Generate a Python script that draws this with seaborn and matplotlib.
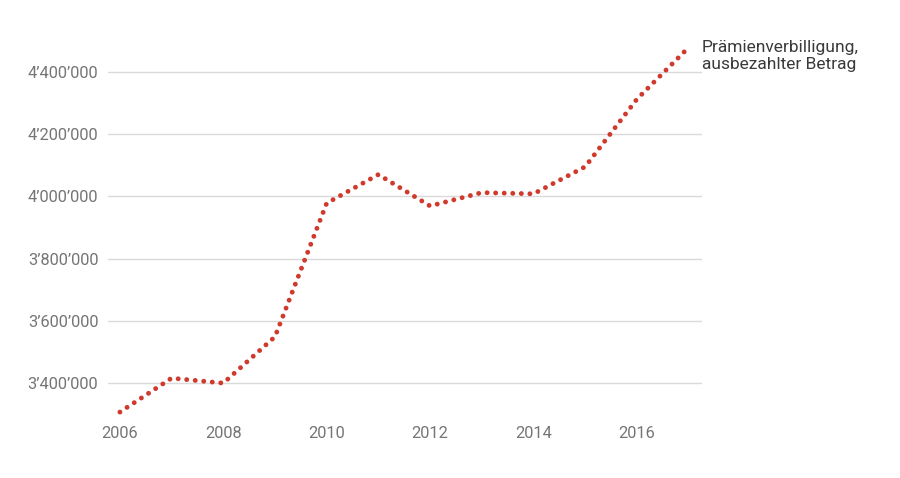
import matplotlib
matplotlib.use("Agg")
import matplotlib.pyplot as plt
import matplotlib.ticker as mticker
import seaborn as sns
import pandas as pd

years = [2006, 2007, 2008, 2009, 2010, 2011, 2012, 2013, 2014, 2015, 2016, 2017]
betrag = [3307000, 3416000, 3400000, 3549000, 3978000, 4070000, 3969000,
          4012000, 4008000, 4095000, 4312000, 4478000]
series_label = "Prämienverbilligung,\nausbezahlter Betrag"
y_ticks = [3400000, 3600000, 3800000, 4000000, 4200000, 4400000]
x_ticks = [2006, 2008, 2010, 2012, 2014, 2016]

df = pd.DataFrame({"Jahr": years, "Betrag": betrag})

sns.set_theme(style="white")
plt.rcParams["font.family"] = ["Roboto", "DejaVu Sans"]

fig = plt.figure(figsize=(9, 4.78), dpi=100)
ax = fig.add_axes([108 / 900, 1 - 418 / 478, (702 - 108) / 900, (418 - 36) / 478])

line_color = "#d03a2c"
sns.lineplot(data=df, x="Jahr", y="Betrag", ax=ax, color=line_color,
             linewidth=3.5, linestyle=(0, (0.01, 1.75)),
             dash_capstyle="round", solid_capstyle="round", zorder=3)

ax.set_xlim(2005.77, 2017.26)
ax.set_ylim(3288000, 4515000)
ax.set_yticks(y_ticks)
ax.set_xticks(x_ticks)
ax.yaxis.set_major_formatter(mticker.FuncFormatter(
    lambda v, p: f"{int(round(v)):,}".replace(",", "\u2019")))
ax.xaxis.set_major_formatter(mticker.FuncFormatter(lambda v, p: f"{int(v)}"))

ax.grid(axis="y", color="#dadada", linewidth=1)
ax.grid(axis="x", visible=False)
for s in ax.spines.values():
    s.set_visible(False)
ax.tick_params(axis="both", length=0, labelsize=11.8, labelcolor="#757575")
ax.tick_params(axis="y", pad=7)
ax.tick_params(axis="x", pad=6)
ax.set_xlabel("")
ax.set_ylabel("")

ax.text(702 / 900, 1 - 56 / 478, series_label, transform=fig.transFigure,
        ha="left", va="center", fontsize=12.5, color="#3a3a3a",
        linespacing=1.12)

fig.savefig("out.png", dpi=100)
